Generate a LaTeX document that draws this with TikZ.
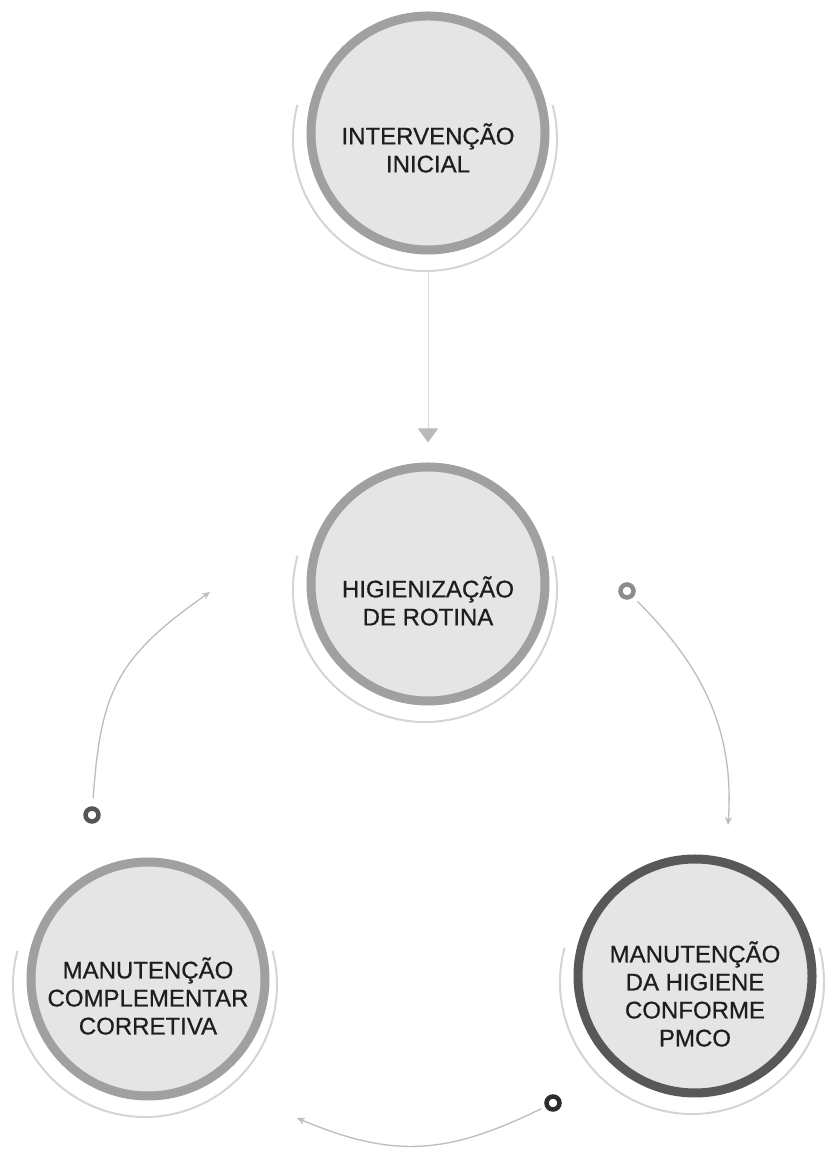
\documentclass[tikz,border=0pt]{standalone}
\usepackage{fontspec}
\setmainfont{Liberation Sans}
\newfontfamily\lblfont{Liberation Sans}[FakeBold=0.7]
\usetikzlibrary{arrows.meta}
\definecolor{ringgray}{RGB}{160,160,160}
\definecolor{ringdark}{RGB}{88,88,88}
\definecolor{fillgray}{RGB}{229,229,229}
\definecolor{halogray}{RGB}{212,212,212}
\definecolor{arcgray}{RGB}{188,188,188}
\definecolor{txtgray}{RGB}{30,30,30}
\definecolor{mkgray}{RGB}{140,140,140}
\definecolor{mkdark}{RGB}{85,85,85}
\definecolor{mkblack}{RGB}{45,45,45}
\begin{document}
\begin{tikzpicture}[x=1pt,y=1pt,
  ring/.style={circle, minimum size=234pt, inner sep=0pt, draw=ringgray, line width=9pt, fill=fillgray},
  ringdk/.style={ring, draw=ringdark},
  lbl/.style={align=center, font=\lblfont\fontsize{24}{28}\selectfont, text=txtgray},
  marker/.style={circle, minimum size=13pt, inner sep=0pt, line width=4.5pt, draw=#1},
  flow/.style={draw=arcgray, line width=1.3pt, -{Stealth[length=8pt,width=7pt]}},
  halo/.style={draw=halogray, line width=2pt},
]
\useasboundingbox (0,0) rectangle (829,1151);

% circles
\node[ring] (top) at (428,1018) {};
\node[ring] (mid) at (428,567) {};
\node[ring] (bl) at (148,172) {};
\node[ringdk] (br) at (695,175) {};

% halos
\draw[halo] ([shift={(-3,-6)}]top.center) ++(165:132) arc[start angle=165, end angle=375, radius=132];
\draw[halo] ([shift={(-3,-6)}]mid.center) ++(165:132) arc[start angle=165, end angle=375, radius=132];
\draw[halo] ([shift={(-3,-6)}]bl.center) ++(165:132) arc[start angle=165, end angle=375, radius=132];
\draw[halo] ([shift={(-3,-6)}]br.center) ++(165:132) arc[start angle=165, end angle=375, radius=132];

% labels
\node[lbl] (toptxt) at (428,1003) {INTERVENÇÃO\\INICIAL};
\node[lbl] (midtxt) at (428,550) {HIGIENIZAÇÃO\\DE ROTINA};
\node[lbl] (bltxt) at (148,155) {MANUTENÇÃO\\COMPLEMENTAR\\CORRETIVA};
\node[lbl] (brtxt) at (695,157) {MANUTENÇÃO\\DA HIGIENE\\CONFORME\\PMCO};

% markers
\node[marker=mkgray] (mR) at (627,560) {};
\node[marker=mkdark] (mL) at (92,336) {};
\node[marker=mkblack] (mB) at (553,48) {};

\coordinate (eR) at (728,326);
\coordinate (eL) at (210,559);
\coordinate (eB) at (297,33);

% connectors
\draw[draw=gray!28, line width=1pt, shorten <=15pt, shorten >=20pt,
  -{Triangle[length=14pt,width=20pt,color=gray!55]}] (top) -- (mid);
\draw[flow, shorten <=6pt] (mR) to[out=-45,in=86] (eR);
\draw[flow, shorten <=8pt] (mL) to[out=86,in=215,looseness=1.2] (eL);
\draw[flow, shorten <=4pt] (mB) to[out=206,in=337,looseness=1.1] (eB);
\end{tikzpicture}
\end{document}
